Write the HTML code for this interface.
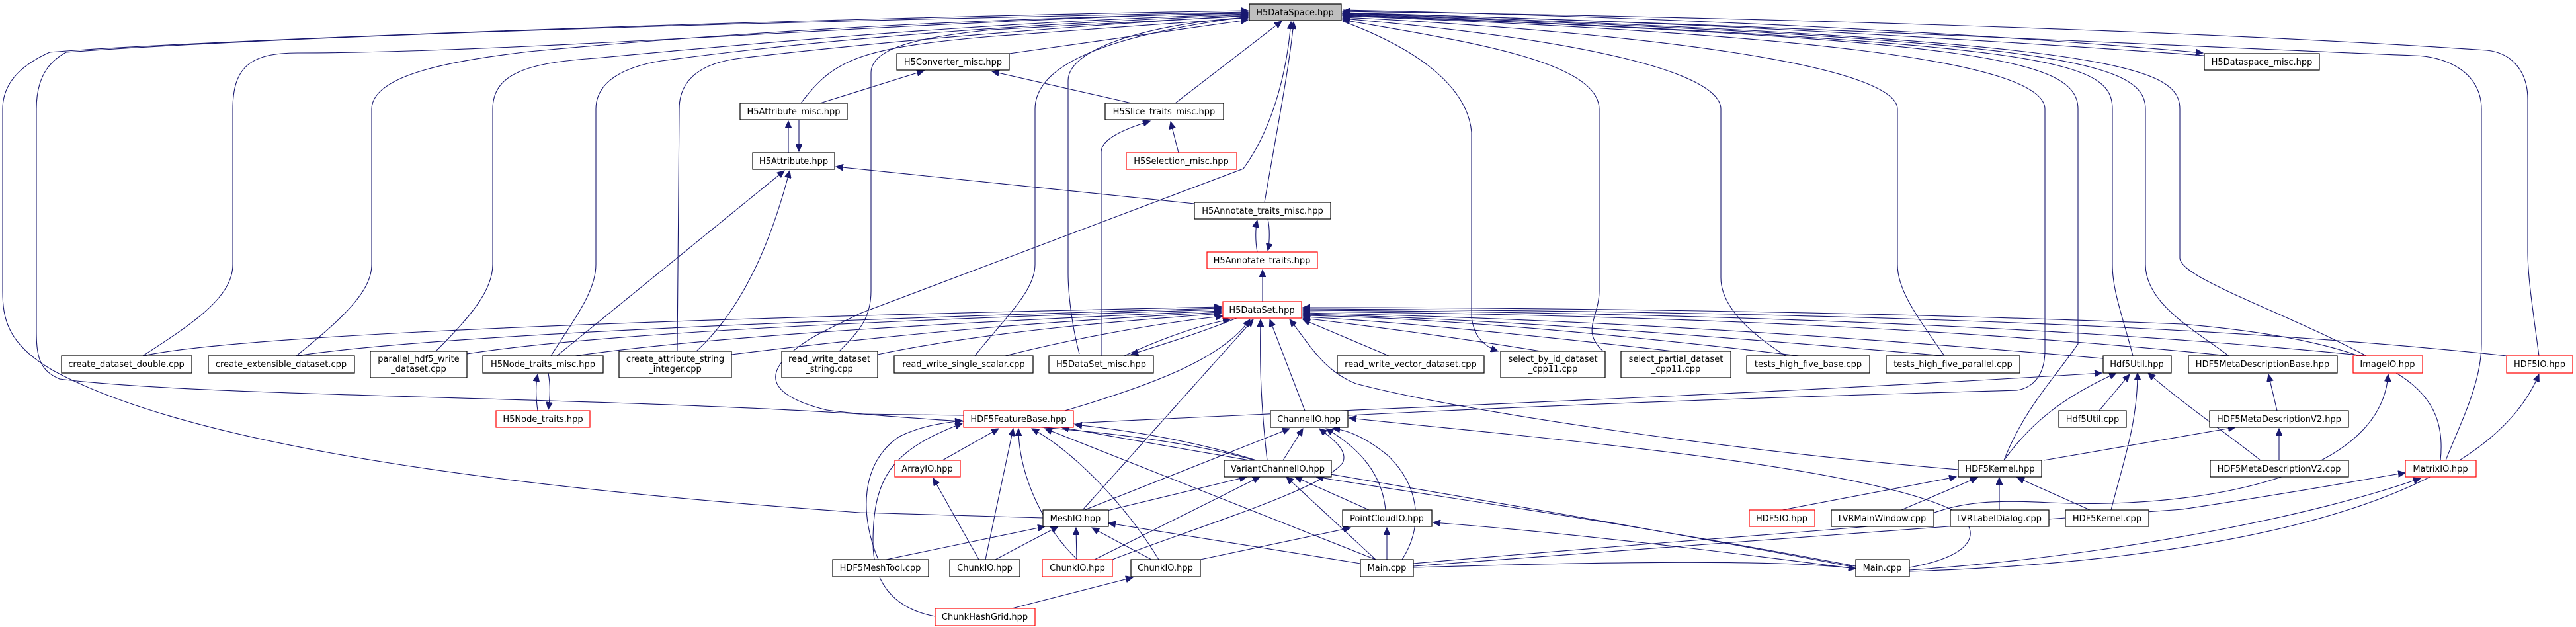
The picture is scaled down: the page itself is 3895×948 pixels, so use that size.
<!DOCTYPE html>
<html><head><meta charset="utf-8"><style>
html,body{margin:0;padding:0;background:#fff;}
svg{display:block;}
text{font-family:"DejaVu Sans","Liberation Sans",sans-serif;font-size:13px;fill:#000;text-anchor:middle;}
.e{fill:none;stroke:#191970;stroke-width:1.1;}
.n{fill:#fff;stroke:#000;stroke-width:1.2;}
.r{fill:#fff;stroke:#ff0000;stroke-width:1.2;}
</style></head><body>
<svg width="3895" height="948" viewBox="0 0 3895 948" xmlns="http://www.w3.org/2000/svg">
<defs><marker id="a" markerWidth="12" markerHeight="10" refX="11" refY="5" orient="auto" markerUnits="userSpaceOnUse"><path d="M0,0 L11,5 L0,10 z" fill="#191970" stroke="#191970"/></marker></defs>
<g class="e" marker-end="url(#a)">
<path d="M216,538 C290,490 352,450 352,400 L352,165 C352,100 380,80 450,80 C800,80 1400,30 1887,19"/>
<path d="M448,538 C520,480 562,440 562,400 L562,165 C562,110 700,90 800,78 C1200,40 1600,25 1887,20"/>
<path d="M659,531 C710,480 745,440 745,400 L745,165 C745,110 800,95 900,88 C1300,50 1600,30 1887,21"/>
<path d="M833,538 C870,480 901,440 901,400 L901,165 C901,120 950,100 1000,92 C1300,52 1600,35 1887,22"/>
<path d="M1024,531 L1027,165 C1027,120 1060,95 1120,88 C1400,55 1700,35 1887,23"/>
<path d="M1269,531 C1300,500 1317,480 1317,440 L1317,110 C1317,70 1400,55 1500,45 L1887,24"/>
<path d="M1474,538 C1520,480 1565,440 1565,400 L1565,165 C1565,90 1700,50 1887,25"/>
<path d="M1632,535 C1620,490 1615,440 1615,413 L1615,122 C1615,70 1750,35 1887,26"/>
<path d="M1211,156 C1260,90 1300,72 1500,55 L1887,27"/>
<path d="M1526,81 L1887,30"/>
<path d="M1777,156 L1938,32"/>
<path d="M1912,306 C1930,200 1950,100 1956,33"/>
<path d="M1457,628 L1300,626 C900,600 300,600 90,573 C60,560 55,540 55,500 L55,165 C55,110 80,90 100,79 C500,50 1300,30 1887,18"/>
<path d="M1577,783 L1300,775 C800,740 300,680 80,560 C10,520 4,480 4,440 L4,165 C4,120 40,95 75,79 C300,60 1300,25 1887,16"/>
<path d="M1897,696 C1700,640 1400,640 1250,620 C1170,600 1150,570 1200,530 C1230,505 1270,490 1300,474 L1880,255 C1920,200 1945,120 1952,33"/>
<path d="M2030,32 C2160,80 2220,140 2225,200 L2225,480 C2228,500 2235,520 2265,531"/>
<path d="M2424,531 C2390,500 2418,480 2418,440 L2418,165 C2418,90 2200,60 2030,30" />
<path d="M2700,538 C2640,500 2602,460 2602,420 L2602,165 C2602,110 2400,60 2030,28"/>
<path d="M2940,538 C2900,480 2869,440 2869,400 L2869,165 C2869,100 2500,50 2030,26"/>
<path d="M2038,628 C2400,610 2700,600 3050,590 C3080,585 3092,560 3092,530 L3092,165 C3092,90 2700,50 2030,24"/>
<path d="M3030,696 C3060,620 3100,580 3142,520 L3142,165 C3142,90 3000,60 2030,23"/>
<path d="M3225,538 C3210,480 3194,440 3194,400 L3194,165 C3194,90 3100,65 2030,22"/>
<path d="M3370,538 C3320,500 3244,460 3244,400 L3244,165 C3244,90 3100,60 2030,21"/>
<path d="M3578,538 C3450,470 3296,420 3296,390 L3296,165 C3296,100 3200,60 2030,20"/>
<path d="M3698,696 C3720,640 3752,580 3752,520 L3752,165 C3752,110 3700,85 3650,84 C3300,70 2600,35 2030,19"/>
<path d="M3839,538 C3830,470 3822,420 3822,380 L3822,150 C3822,110 3800,80 3760,76 C3300,45 2600,25 2030,17"/>
<path d="M2030,15 C2500,25 3000,50 3331,80"/>
<path d="M3333,84 C3000,60 2500,30 2030,20"/>
<path d="M1240,156 L1397,107"/>
<path d="M1192,231 L1192,183"/>
<path d="M1208,181 L1208,229"/>
<path d="M1806,308 L1264,252"/>
<path d="M1711,156 L1500,108"/>
<path d="M1782,231 L1770,184"/>
<path d="M1665,538 L1665,230 C1665,210 1700,195 1739,183"/>
<path d="M1901,381 C1898,365 1898,345 1901,333"/>
<path d="M1917,331 C1920,345 1920,365 1917,379"/>
<path d="M1909,456 L1909,408"/>
<path d="M842,538 L1186,258"/>
<path d="M1053,531 C1130,460 1170,350 1194,258"/>
<path d="M813,621 C810,600 810,580 813,566"/>
<path d="M829,564 C832,580 832,600 829,619"/>
<path d="M216,538 C300,520 600,490 1847,464"/>
<path d="M448,538 C600,515 1000,490 1847,466"/>
<path d="M706,535 C900,505 1300,485 1847,468"/>
<path d="M870,538 C1100,505 1500,485 1847,470"/>
<path d="M1106,536 C1400,500 1600,485 1847,472"/>
<path d="M1327,536 C1500,500 1700,485 1847,474"/>
<path d="M1520,538 C1650,505 1780,485 1849,478"/>
<path d="M1700,538 C1760,510 1820,490 1860,483"/>
<path d="M1870,481 C1810,505 1760,520 1710,536"/>
<path d="M1610,621 C1750,580 1850,540 1890,483"/>
<path d="M1637,771 L1895,483"/>
<path d="M1916,696 C1905,600 1905,540 1906,483"/>
<path d="M1973,621 L1920,483"/>
<path d="M2100,538 L1970,483"/>
<path d="M2330,531 C2200,510 2050,490 1970,481"/>
<path d="M2530,531 C2300,505 2100,485 1970,479"/>
<path d="M2720,538 C2400,500 2150,480 1970,477"/>
<path d="M2940,538 C2500,500 2200,480 1970,475"/>
<path d="M3180,542 C2700,500 2300,480 1970,473"/>
<path d="M3370,538 C2900,490 2400,475 1970,471"/>
<path d="M3578,538 C3100,490 2500,472 1970,469"/>
<path d="M3790,538 C3300,485 2600,470 1970,467"/>
<path d="M3690,696 C3700,600 3650,520 3300,490 C2800,470 2300,465 1970,465"/>
<path d="M2961,710 C2600,680 2200,620 2050,580 C2000,560 1980,520 1950,483"/>
<path d="M1425,696 L1510,648"/>
<path d="M1490,846 L1532,648"/>
<path d="M1629,846 C1580,800 1540,720 1540,648"/>
<path d="M1752,846 C1700,760 1620,680 1560,648"/>
<path d="M1328,846 C1300,780 1300,700 1360,660 C1390,645 1420,640 1455,636"/>
<path d="M1414,932 C1350,920 1320,880 1320,820 C1320,720 1350,680 1455,640"/>
<path d="M2080,846 L1580,648"/>
<path d="M2806,858 C2400,780 1900,700 1605,646"/>
<path d="M1900,696 C1800,665 1700,650 1625,642"/>
<path d="M1623,640 C2000,620 2600,600 3178,564"/>
<path d="M1640,771 L1950,648"/>
<path d="M1940,696 L1970,648"/>
<path d="M1682,846 C1800,800 2000,740 2030,700 C2040,680 2010,660 1995,648"/>
<path d="M2095,771 C2090,720 2060,680 2005,648"/>
<path d="M2120,846 C2150,800 2150,740 2100,690 C2070,665 2040,650 2015,648"/>
<path d="M2887,858 C2990,840 3000,800 2950,770 C2800,700 2300,660 2040,632"/>
<path d="M1670,773 L1885,721"/>
<path d="M1655,846 L1905,721"/>
<path d="M2080,846 L1945,721"/>
<path d="M2070,771 L1958,721"/>
<path d="M2806,856 C2400,780 2100,740 1990,721"/>
<path d="M1340,846 L1580,796"/>
<path d="M1505,846 L1600,796"/>
<path d="M1628,846 L1627,798"/>
<path d="M1741,846 L1651,798"/>
<path d="M2057,852 L1676,791"/>
<path d="M1480,846 L1411,723"/>
<path d="M2097,846 L2097,798"/>
<path d="M1815,846 L2042,798"/>
<path d="M2806,860 C2500,820 2300,800 2167,790"/>
<path d="M2137,858 C2400,850 2700,845 2806,860"/>
<path d="M1530,920 L1713,873"/>
<path d="M3443,621 L3430,566"/>
<path d="M3446,696 L3446,648"/>
<path d="M3418,696 C3360,650 3300,610 3248,564"/>
<path d="M3174,621 L3220,566"/>
<path d="M3030,696 C3070,640 3120,600 3200,564"/>
<path d="M3090,696 L3380,646"/>
<path d="M3192,771 C3210,700 3232,640 3232,564"/>
<path d="M2695,771 L2958,721"/>
<path d="M2875,771 L2990,722"/>
<path d="M3023,771 L3023,722"/>
<path d="M3160,771 L3050,722"/>
<path d="M2137,852 C2500,820 2800,800 2890,790 C2950,760 3000,755 3100,760 C3300,770 3600,730 3611,566"/>
<path d="M2137,856 C2500,830 3000,790 3300,770 C3500,740 3600,720 3637,715"/>
<path d="M2887,862 C3200,840 3500,780 3660,723"/>
<path d="M2887,864 C3300,850 3750,780 3839,566"/>
</g>
<g>
<rect x="1889" y="6" width="139" height="25" fill="#bfbfbf" stroke="#000" stroke-width="1.2"/><text x="1958" y="23">H5DataSpace.hpp</text>
<rect class="n" x="1356" y="81" width="170" height="25"/><text x="1441" y="98">H5Converter_misc.hpp</text>
<rect class="n" x="3333" y="81" width="174" height="25"/><text x="3420" y="98">H5Dataspace_misc.hpp</text>
<rect class="n" x="1119" y="156" width="162" height="25"/><text x="1200" y="173">H5Attribute_misc.hpp</text>
<rect class="n" x="1671" y="156" width="179" height="25"/><text x="1760" y="173">H5Slice_traits_misc.hpp</text>
<rect class="n" x="1138" y="231" width="124" height="25"/><text x="1200" y="248">H5Attribute.hpp</text>
<rect class="r" x="1703" y="231" width="167" height="25"/><text x="1786" y="248">H5Selection_misc.hpp</text>
<rect class="n" x="1806" y="306" width="206" height="25"/><text x="1909" y="323">H5Annotate_traits_misc.hpp</text>
<rect class="r" x="1825" y="381" width="167" height="25"/><text x="1908" y="398">H5Annotate_traits.hpp</text>
<rect class="r" x="1849" y="456" width="119" height="25"/><text x="1908" y="473">H5DataSet.hpp</text>
<rect class="n" x="93" y="538" width="197" height="26"/><text x="191" y="555">create_dataset_double.cpp</text>
<rect class="n" x="315" y="538" width="221" height="26"/><text x="425" y="555">create_extensible_dataset.cpp</text>
<rect class="n" x="560" y="531" width="146" height="40"/><text x="633" y="547">parallel_hdf5_write</text><text x="633" y="562">_dataset.cpp</text>
<rect class="n" x="730" y="538" width="182" height="26"/><text x="821" y="555">H5Node_traits_misc.hpp</text>
<rect class="n" x="936" y="531" width="170" height="40"/><text x="1021" y="547">create_attribute_string</text><text x="1021" y="562">_integer.cpp</text>
<rect class="n" x="1182" y="531" width="145" height="40"/><text x="1254" y="547">read_write_dataset</text><text x="1254" y="562">_string.cpp</text>
<rect class="n" x="1352" y="538" width="210" height="26"/><text x="1457" y="555">read_write_single_scalar.cpp</text>
<rect class="n" x="1586" y="538" width="158" height="26"/><text x="1665" y="555">H5DataSet_misc.hpp</text>
<rect class="n" x="2022" y="538" width="222" height="26"/><text x="2133" y="555">read_write_vector_dataset.cpp</text>
<rect class="n" x="2269" y="531" width="158" height="40"/><text x="2348" y="547">select_by_id_dataset</text><text x="2348" y="562">_cpp11.cpp</text>
<rect class="n" x="2451" y="531" width="166" height="40"/><text x="2534" y="547">select_partial_dataset</text><text x="2534" y="562">_cpp11.cpp</text>
<rect class="n" x="2641" y="538" width="186" height="26"/><text x="2734" y="555">tests_high_five_base.cpp</text>
<rect class="n" x="2852" y="538" width="202" height="26"/><text x="2953" y="555">tests_high_five_parallel.cpp</text>
<rect class="n" x="3180" y="538" width="103" height="26"/><text x="3231" y="555">Hdf5Util.hpp</text>
<rect class="n" x="3309" y="538" width="225" height="26"/><text x="3421" y="555">HDF5MetaDescriptionBase.hpp</text>
<rect class="r" x="3558" y="538" width="105" height="26"/><text x="3610" y="555">ImageIO.hpp</text>
<rect class="r" x="3790" y="538" width="100" height="26"/><text x="3840" y="555">HDF5IO.hpp</text>
<rect class="r" x="750" y="621" width="142" height="25"/><text x="821" y="638">H5Node_traits.hpp</text>
<rect class="r" x="1457" y="621" width="166" height="25"/><text x="1540" y="638">HDF5FeatureBase.hpp</text>
<rect class="n" x="1921" y="621" width="117" height="25"/><text x="1979" y="638">ChannelIO.hpp</text>
<rect class="n" x="3113" y="621" width="102" height="25"/><text x="3164" y="638">Hdf5Util.cpp</text>
<rect class="n" x="3341" y="621" width="210" height="25"/><text x="3446" y="638">HDF5MetaDescriptionV2.hpp</text>
<rect class="r" x="1353" y="696" width="99" height="25"/><text x="1402" y="713">ArrayIO.hpp</text>
<rect class="n" x="1851" y="696" width="162" height="25"/><text x="1932" y="713">VariantChannelIO.hpp</text>
<rect class="n" x="2961" y="696" width="126" height="25"/><text x="3024" y="713">HDF5Kernel.hpp</text>
<rect class="n" x="3342" y="696" width="209" height="25"/><text x="3446" y="713">HDF5MetaDescriptionV2.cpp</text>
<rect class="r" x="3637" y="696" width="107" height="25"/><text x="3690" y="713">MatrixIO.hpp</text>
<rect class="n" x="1577" y="771" width="99" height="25"/><text x="1626" y="788">MeshIO.hpp</text>
<rect class="n" x="2030" y="771" width="135" height="25"/><text x="2097" y="788">PointCloudIO.hpp</text>
<rect class="r" x="2645" y="771" width="99" height="25"/><text x="2694" y="788">HDF5IO.hpp</text>
<rect class="n" x="2769" y="771" width="155" height="25"/><text x="2846" y="788">LVRMainWindow.cpp</text>
<rect class="n" x="2949" y="771" width="149" height="25"/><text x="3023" y="788">LVRLabelDialog.cpp</text>
<rect class="n" x="3123" y="771" width="126" height="25"/><text x="3186" y="788">HDF5Kernel.cpp</text>
<rect class="n" x="1259" y="846" width="145" height="26"/><text x="1331" y="863">HDF5MeshTool.cpp</text>
<rect class="n" x="1436" y="846" width="106" height="26"/><text x="1489" y="863">ChunkIO.hpp</text>
<rect class="r" x="1576" y="846" width="106" height="26"/><text x="1629" y="863">ChunkIO.hpp</text>
<rect class="n" x="1710" y="846" width="105" height="26"/><text x="1762" y="863">ChunkIO.hpp</text>
<rect class="n" x="2057" y="846" width="80" height="26"/><text x="2097" y="863">Main.cpp</text>
<rect class="n" x="2806" y="846" width="81" height="26"/><text x="2846" y="863">Main.cpp</text>
<rect class="r" x="1414" y="920" width="151" height="26"/><text x="1489" y="937">ChunkHashGrid.hpp</text>
</g>
</svg>
</body></html>
